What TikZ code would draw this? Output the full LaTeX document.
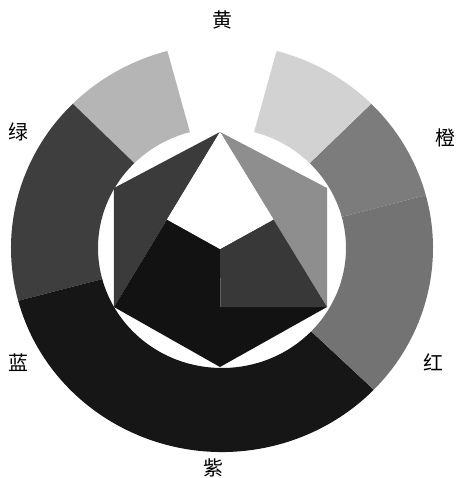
\documentclass[tikz,border=0pt]{standalone}
\usepackage{fontspec}
\newfontfamily\cjk{Noto Sans CJK SC}
\usetikzlibrary{calc}
\definecolor{ringPale}{HTML}{D2D2D2}
\definecolor{ringLight}{HTML}{B5B5B5}
\definecolor{ringMid}{HTML}{7C7C7C}
\definecolor{ringRed}{HTML}{737373}
\definecolor{ringDark}{HTML}{3E3E3E}
\definecolor{ringBlack}{HTML}{161616}
\definecolor{starOrange}{HTML}{8E8E8E}
\definecolor{starGreen}{HTML}{3B3B3B}
\definecolor{starRed}{HTML}{383838}
\definecolor{starBlack}{HTML}{121212}
\tikzset{
  hueLabel/.style={font=\cjk\fontsize{17}{17}\selectfont, inner sep=0pt},
}
\newcommand{\ringseg}[3]{%
  \fill[#3] (#1:211 and 204) arc[start angle=#1, end angle=#2, x radius=211, y radius=204]
    -- (#2:124 and 120) arc[start angle=#2, end angle=#1, x radius=124, y radius=120] -- cycle;}

\begin{document}
\begin{tikzpicture}[x=0.03cm, y=0.03cm]
        \path[use as bounding box, fill=white] (-222,-230) rectangle (235,248);
        \ringseg{15}{45}{ringMid}
        \ringseg{45}{75}{ringPale}
        \ringseg{105}{135}{ringLight}
        \ringseg{135}{195}{ringDark}
        \ringseg{195}{316}{ringBlack}
        \ringseg{-44}{15}{ringRed}
        \coordinate (T) at (-2,116);  \coordinate (UL) at (-108,60);
        \coordinate (LL) at (-108,-59); \coordinate (B) at (-2,-119);
        \coordinate (LR) at (105,-59); \coordinate (UR) at (105,60);
        \coordinate (G) at (-2,-1);
        \coordinate (P1) at ($(T)!0.5!(LL)$); \coordinate (P2) at ($(T)!0.5!(LR)$);
        \coordinate (M3) at ($(LL)!0.5!(LR)$);
        \fill[starGreen] (T) -- (UL) -- (LL) -- cycle;
        \fill[starOrange] (T) -- (UR) -- (LR) -- cycle;
        \fill[starBlack] (LL) -- (B) -- (LR) -- cycle;
        \fill[starBlack] (LL) -- (P1) -- (G) -- (M3) -- cycle;
        \fill[starRed] (LR) -- (P2) -- (G) -- (M3) -- cycle;
        \fill[white] (T) -- (P1) -- (G) -- (P2) -- cycle;
        \node[hueLabel] (yellow) at (0,228) {黄};
        \node[hueLabel] (orange) at (223,110) {橙};
        \node[hueLabel] (red) at (211,-114) {红};
        \node[hueLabel] (violet) at (-9,-220) {紫};
        \node[hueLabel] (blue) at (-204,-115) {蓝};
        \node[hueLabel] (green) at (-204,116) {绿};
      \end{tikzpicture}
\end{document}
